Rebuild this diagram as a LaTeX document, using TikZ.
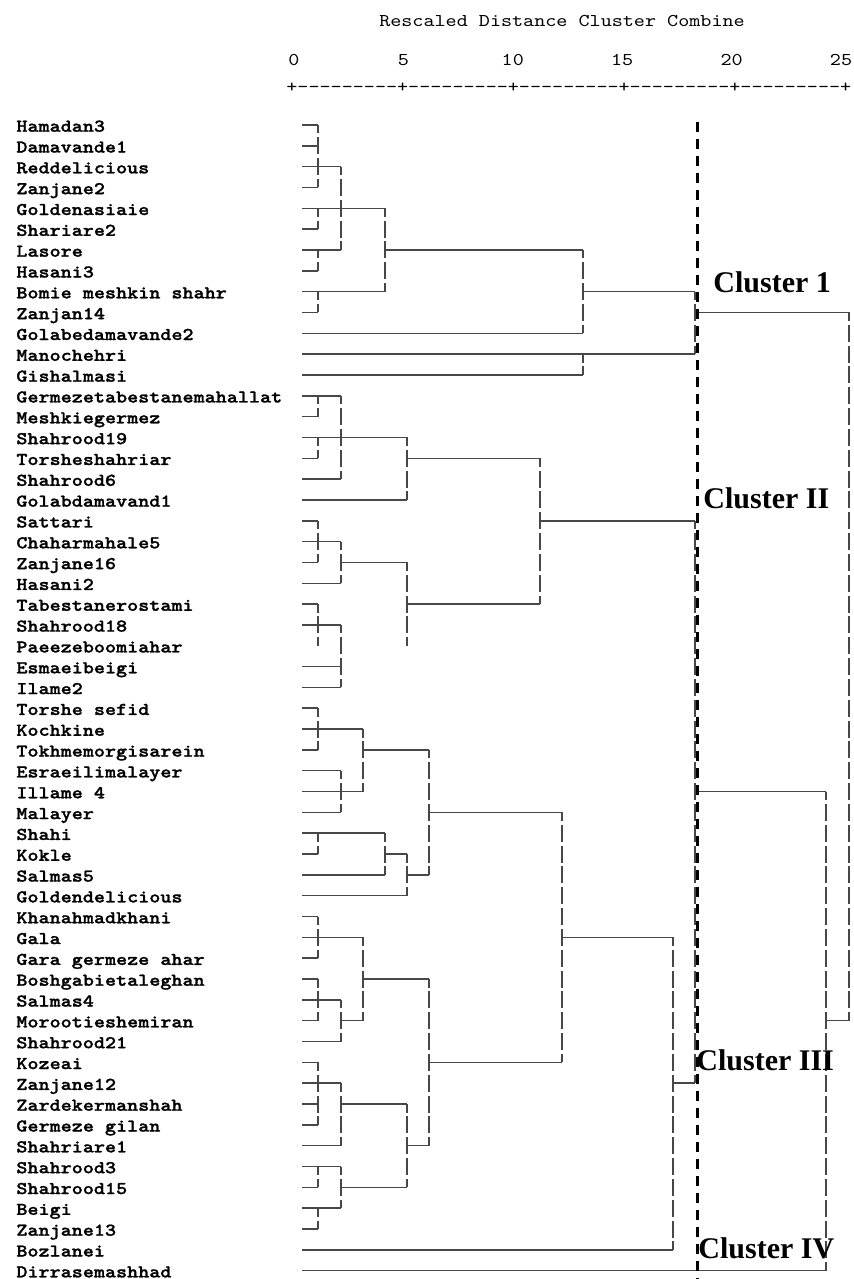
\documentclass[tikz,border=0pt]{standalone}
\usepackage{fontspec}
\newfontfamily\monofnt{lmmono10-regular.otf}[Ligatures=TeXOff, FakeStretch=1.172, BoldFont=lmmonolt10-bold.otf, BoldFeatures={FakeBold=1.3}]
\newfontfamily\serfnt{Liberation Serif}
\pgfmathdeclarefunction{ry}{1}{\pgfmathparse{125+(#1-1)*20.83}}
\newcommand\HS[3]{\draw[hseg] (#1,{ry(#3)}) -- (#2,{ry(#3)});}
\newcommand\VS[3]{\draw[vseg] (#1,{ry(#2)}) -- (#1,{ry(#3)});}
\begin{document}
\begin{tikzpicture}[x=0.5pt,y=-0.5pt,
  hseg/.style={draw=black!72, line width=0.75pt},
  vseg/.style={draw=black!72, line width=0.75pt, dash pattern=on 8.5pt off 1.915pt, dash phase=4.25pt},
  leaf/.style={anchor=base west, inner sep=0pt, font=\monofnt\bfseries\fontsize{9}{11}\selectfont},
  hdr/.style={inner sep=0pt, font=\monofnt\fontsize{9}{11}\selectfont},
  clab/.style={anchor=base west, inner sep=0pt, font=\serfnt\bfseries\fontsize{15}{18}\selectfont},
  cutline/.style={draw=black, line width=1.5pt, dash pattern=on 5pt off 3.5pt}]
\fill[white] (0,0) rectangle (854,1279);
\useasboundingbox (0,0) rectangle (854,1279);
% header
\node[hdr, anchor=base] (title) at (562,27) {Rescaled Distance Cluster Combine};
\foreach \v/\k in {0/0,5/1,10/2,15/3,20/4,25/5}
  \node[hdr, anchor=base] (n\v) at ({294+\k*109.4},66) {\v};
\node[hdr, anchor=base west] (axis) at (286,93) {+---------+---------+---------+---------+---------+};
% leaf labels
\foreach \n [count=\i] in {Hamadan3,Damavande1,Reddelicious,Zanjane2,Goldenasiaie,Shariare2,Lasore,Hasani3,Bomie meshkin shahr,Zanjan14,Golabedamavande2,Manochehri,Gishalmasi,Germezetabestanemahallat,Meshkiegermez,Shahrood19,Torsheshahriar,Shahrood6,Golabdamavand1,Sattari,Chaharmahale5,Zanjane16,Hasani2,Tabestanerostami,Shahrood18,Paeezeboomiahar,Esmaeibeigi,Ilame2,Torshe sefid,Kochkine,Tokhmemorgisarein,Esraeilimalayer,Illame 4,Malayer,Shahi,Kokle,Salmas5,Goldendelicious,Khanahmadkhani,Gala,Gara germeze ahar,Boshgabietaleghan,Salmas4,Morootieshemiran,Shahrood21,Kozeai,Zanjane12,Zardekermanshah,Germeze gilan,Shahriare1,Shahrood3,Shahrood15,Beigi,Zanjane13,Bozlanei,Dirrasemashhad}
  \node[leaf] (l\i) at (16,{ry(\i)+6.7}) {\n};
% leaf lines
\foreach \e [count=\i] in {318,318,341,318,385,318,341,318,385,318,583,695,583,341,318,407,318,341,407,318,341,318,341,318,341,0,341,341,318,363,318,341,363,341,385,318,385,407,318,363,318,318,341,318,341,318,341,318,318,341,341,318,341,318,673,826}
  {\ifnum\e>0 \HS{302}{\e}{\i}\fi}
% cluster 1
\HS{385}{583}{7} \HS{583}{695}{9} \HS{695}{849}{10}
\VS{318}{1}{4} \VS{318}{5}{6} \VS{318}{7}{8} \VS{318}{9}{10}
\VS{341}{3}{7} \VS{385}{5}{9} \VS{583}{7}{11} \VS{583}{12}{13} \VS{695}{9}{12}
% cluster 2
\HS{407}{540}{17} \HS{341}{407}{22} \HS{407}{540}{24} \HS{540}{695}{20}
\VS{318}{14}{15} \VS{318}{16}{17} \VS{341}{14}{18} \VS{407}{16}{19}
\VS{318}{20}{22} \VS{341}{21}{23} \VS{407}{22}{26} \VS{318}{24}{26}
\VS{341}{25}{28} \VS{540}{17}{24}
% cluster 3 and 4
\HS{363}{429}{31} \HS{385}{407}{36} \HS{407}{429}{37} \HS{429}{562}{34}
\HS{341}{363}{44} \HS{363}{429}{42} \HS{341}{407}{48} \HS{341}{407}{52}
\HS{407}{429}{50} \HS{429}{562}{46} \HS{562}{673}{40} \HS{673}{695}{47}
\HS{695}{826}{33} \HS{826}{849}{44}
\VS{318}{29}{31} \VS{341}{32}{34} \VS{363}{30}{33} \VS{318}{35}{36}
\VS{385}{35}{37} \VS{407}{36}{38} \VS{429}{31}{37} \VS{318}{39}{41}
\VS{318}{42}{44} \VS{341}{43}{45} \VS{363}{40}{44} \VS{318}{46}{49}
\VS{341}{47}{50} \VS{318}{51}{52} \VS{318}{53}{54} \VS{341}{51}{53}
\VS{407}{48}{52} \VS{429}{42}{50} \VS{562}{34}{46} \VS{673}{40}{55}
\VS{695}{20}{47} \VS{826}{33}{56} \VS{849}{10}{44}
% cut line
\coordinate (cutTop) at (697,122);
\coordinate (cutBot) at (697,1279);
\draw[cutline] (cutTop) -- (cutBot);
% cluster labels
\node[clab] (c1) at (713,292) {Cluster 1};
\node[clab] (c2) at (703,508) {Cluster II};
\node[clab] (c3) at (696,1070) {Cluster III};
\node[clab] (c4) at (698,1258) {Cluster IV};
\end{tikzpicture}
\end{document}
